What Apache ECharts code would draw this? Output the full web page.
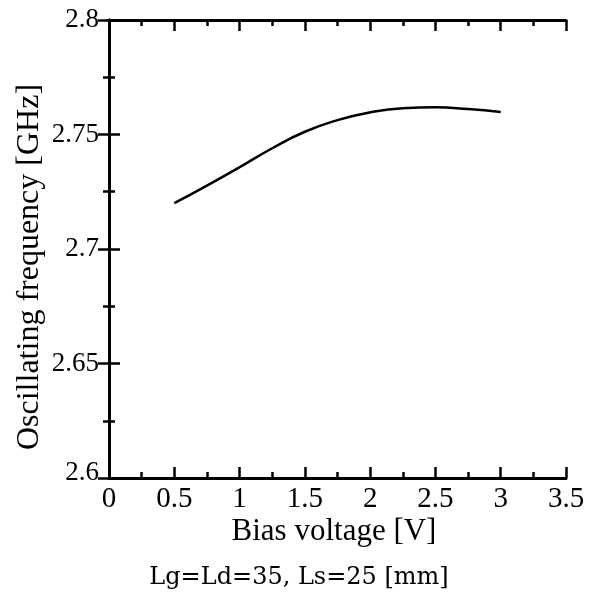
<!DOCTYPE html>
<html>
<head>
<meta charset="utf-8">
<script src="https://cdn.jsdelivr.net/npm/echarts@6/dist/echarts.min.js"></script>
<style>html,body{margin:0;padding:0;background:#fff}#c{width:597px;height:603px}</style>
</head>
<body>
<div id="c"></div>
<script>
const biasVoltage = [0.5, 0.75, 1.0, 1.25, 1.5, 1.75, 2.0, 2.25, 2.5, 2.75, 3.0];
const frequency = [2.7200, 2.7277, 2.7357, 2.7440, 2.7512, 2.7563, 2.7597, 2.7615, 2.7619, 2.7611, 2.7598];
const xTitle = 'Bias voltage [V]';
const yTitle = 'Oscillating frequency [GHz]';
const caption = 'Lg=Ld=35, Ls=25 [mm]';

const font = 'Liberation Serif';
const chart = echarts.init(document.getElementById('c'));
const axisLine = {show: true, lineStyle: {color: '#000', width: 3}};
const tick = {show: true, inside: true, length: 11, lineStyle: {color: '#000', width: 2.5}};
const minor = {show: true, splitNumber: 2, length: 6, lineStyle: {color: '#000', width: 2.5}};
chart.setOption({
  animation: false,
  backgroundColor: '#fff',
  grid: {left: 109, top: 20, right: 31, bottom: 125},
  graphic: [
    {type: 'text', x: 334, y: 532, style: {text: xTitle, align: 'center', verticalAlign: 'middle',
      font: '31px "Liberation Serif"', fill: '#000'}},
    {type: 'text', x: 30, y: 267, rotation: Math.PI / 2, style: {text: yTitle, align: 'center', verticalAlign: 'middle',
      font: '32px "Liberation Serif"', fill: '#000'}},
    {type: 'text', x: 299, y: 578, style: {text: caption, align: 'center', verticalAlign: 'middle',
      font: '24px "DejaVu Serif"', fill: '#000'}}
  ],
  xAxis: [
    {type: 'value', min: 0, max: 3.5, interval: 0.5, position: 'bottom',
     axisLine, axisTick: tick, minorTick: minor, splitLine: {show: false},
     axisLabel: {margin: 7, fontFamily: font, fontSize: 29, color: '#000'}},
    {type: 'value', min: 0, max: 3.5, interval: 0.5, position: 'top',
     axisLine, axisTick: tick, minorTick: minor, splitLine: {show: false},
     axisLabel: {show: false}}
  ],
  yAxis: [
    {type: 'value', min: 2.6, max: 2.8, interval: 0.05, position: 'left',
     axisLine, axisTick: tick, minorTick: minor, splitLine: {show: false},
     axisLabel: {margin: 10, fontFamily: font, fontSize: 27, color: '#000',
       formatter: v => (Math.abs(v - 2.6) < 1e-9 ? '{low|2.6}' : String(+v.toFixed(2))),
       rich: {low: {fontFamily: font, fontSize: 27, color: '#000', padding: [0, 0, 10, 0]}}}},
    {type: 'value', min: 2.6, max: 2.8, interval: 0.05, position: 'right',
     axisLine, axisTick: tick, minorTick: minor, splitLine: {show: false},
     axisLabel: {show: false}}
  ],
  series: [{
    type: 'line', smooth: true, showSymbol: false,
    lineStyle: {color: '#000', width: 2.5},
    data: biasVoltage.map((v, i) => [v, frequency[i]])
  }]
});
</script>
</body>
</html>
